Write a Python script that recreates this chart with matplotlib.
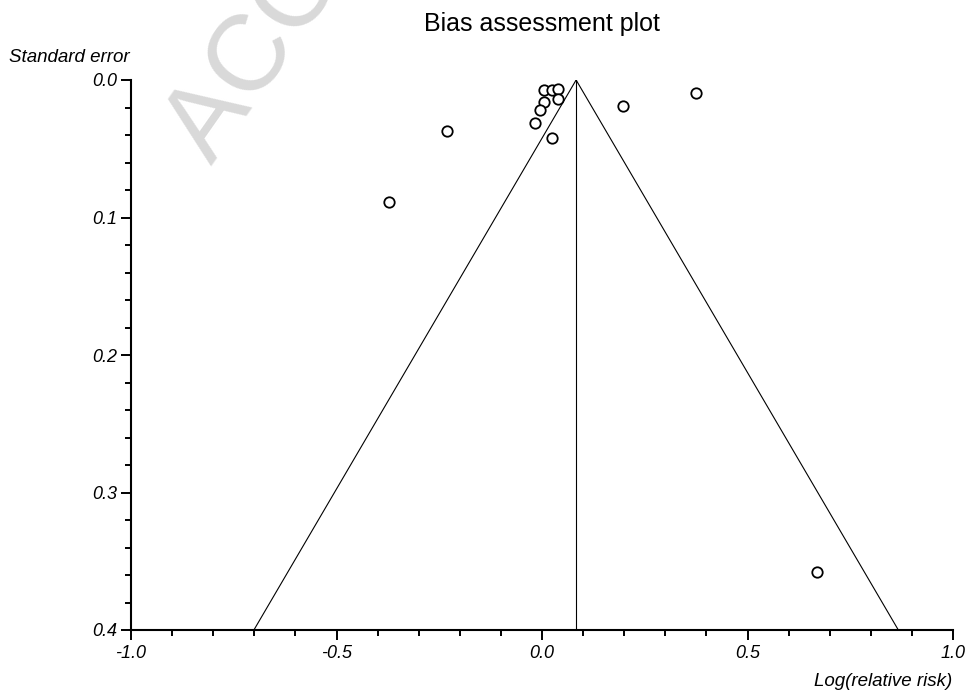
import matplotlib
matplotlib.use('Agg')
import matplotlib.pyplot as plt
import numpy as np

# study estimates
log_rr = [0.006, 0.024, 0.040, 0.040, 0.006, -0.005, -0.018, 0.025,
          -0.230, -0.372, 0.198, 0.374, 0.670]
std_err = [0.0073, 0.0073, 0.0068, 0.0140, 0.0162, 0.0218, 0.0315, 0.0420,
           0.0369, 0.0889, 0.0189, 0.0092, 0.3576]
pooled = 0.083
se_max = 0.4
x_ticks = [-1.0, -0.5, 0.0, 0.5, 1.0]
y_ticks = [0.0, 0.1, 0.2, 0.3, 0.4]

plt.rcParams['font.family'] = ['Liberation Sans', 'DejaVu Sans']

fig = plt.figure(figsize=(9.68, 7.0), dpi=100)
ax = fig.add_axes([131/968, 1-630/700, 822/968, 550/700])

# watermark
fig.text(212/968, 1-166/700, 'ACCEPTED MANUSCRIPT', color='#d9d9d9',
         fontsize=78, rotation=55, rotation_mode='anchor',
         ha='left', va='baseline', zorder=0)

# funnel
se = np.array([0.0, se_max])
ax.plot(pooled - 1.96*se, se, color='black', lw=0.8)
ax.plot(pooled + 1.96*se, se, color='black', lw=0.8)
ax.plot([pooled, pooled], [0, se_max], color='black', lw=0.8)

ax.plot(log_rr, std_err, 'o', mfc='white', mec='black', ms=7.5, mew=1.3,
        linestyle='none', zorder=3)

ax.set_xlim(-1.0, 1.0)
ax.set_ylim(se_max, 0.0)
ax.set_xticks(x_ticks)
ax.set_yticks(y_ticks)
ax.set_xticks(np.arange(-1.0, 1.01, 0.1), minor=True)
ax.set_yticks(np.arange(0.0, 0.401, 0.02), minor=True)
ax.set_xticklabels(['%.1f' % v for v in x_ticks], style='italic', fontsize=13)
ax.set_yticklabels(['%.1f' % v for v in y_ticks], style='italic', fontsize=13,
                   va='center_baseline')
ax.tick_params(which='major', length=7, width=1.4, pad=3)
ax.tick_params(which='minor', length=4.5, width=1.4)
ax.tick_params(axis='x', which='major', pad=4)

for s in ['top', 'right']:
    ax.spines[s].set_visible(False)
for s in ['left', 'bottom']:
    ax.spines[s].set_linewidth(1.5)
ax.patch.set_alpha(0)

fig.text(542/968, 1-31/700, 'Bias assessment plot', ha='center',
         va='baseline', fontsize=18)
fig.text(9/968, 1-62/700, 'Standard error', ha='left', va='baseline',
         fontsize=13.5, style='italic')
fig.text(952/968, 1-686/700, 'Log(relative risk)', ha='right',
         va='baseline', fontsize=13.5, style='italic')

fig.savefig('out.png', dpi=100)
